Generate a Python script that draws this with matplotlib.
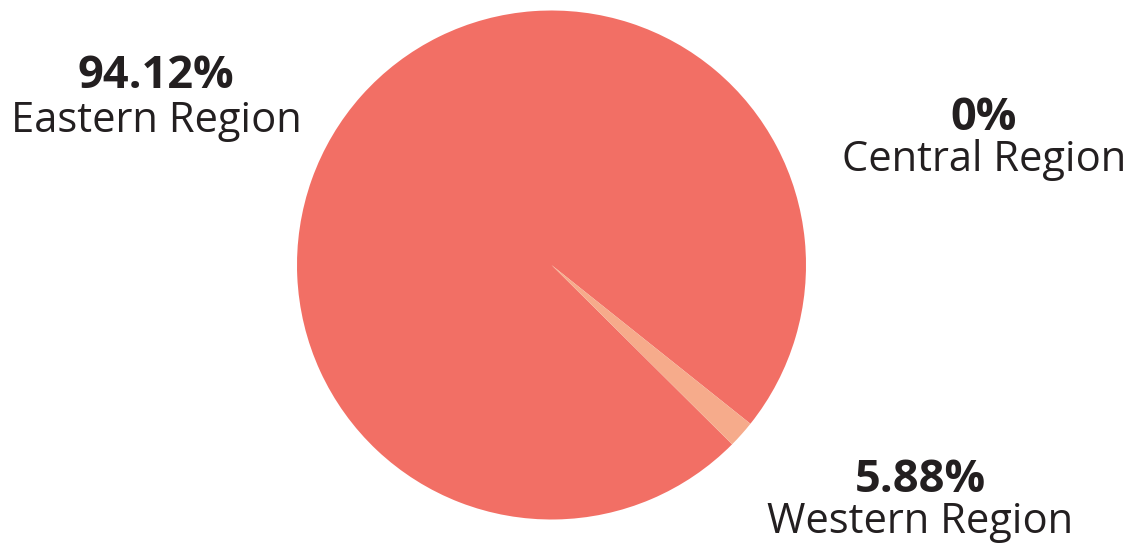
import matplotlib.pyplot as plt

regions = ['Eastern Region', 'Western Region', 'Central Region']
pct_labels = ['94.12%', '5.88%', '0%']
# wedge sizes as they are drawn in the picture
drawn_share = [98.28, 1.72]
colors = ['#F26F65', '#F6AB8B']

plt.rcParams['font.family'] = ['Open Sans', 'DejaVu Sans']

W, H = 1131, 546
fig = plt.figure(figsize=(W / 100, H / 100), dpi=100)
ax = fig.add_axes([0, 0, 1, 1])

ax.pie(drawn_share, colors=colors, startangle=-38.6, counterclock=True,
       center=(551.5, H - 265), radius=254.5, frame=True,
       wedgeprops=dict(linewidth=0))
ax.set_xlim(0, W)
ax.set_ylim(0, H)
ax.set_aspect('equal')
ax.axis('off')

txt = '#231F20'
label_pos = {'Eastern Region': (156, 76, 121),
             'Western Region': (920, 480, 522),
             'Central Region': (984, 118, 160)}
for name, pct in zip(regions, pct_labels):
    x, y1, y2 = label_pos[name]
    ax.text(x, H - y1, pct, ha='center', va='center', fontsize=32.5,
            fontweight='bold', color=txt)
    ax.text(x, H - y2, name, ha='center', va='center', fontsize=30,
            color=txt)

fig.savefig('out.png', dpi=100, facecolor='white')
